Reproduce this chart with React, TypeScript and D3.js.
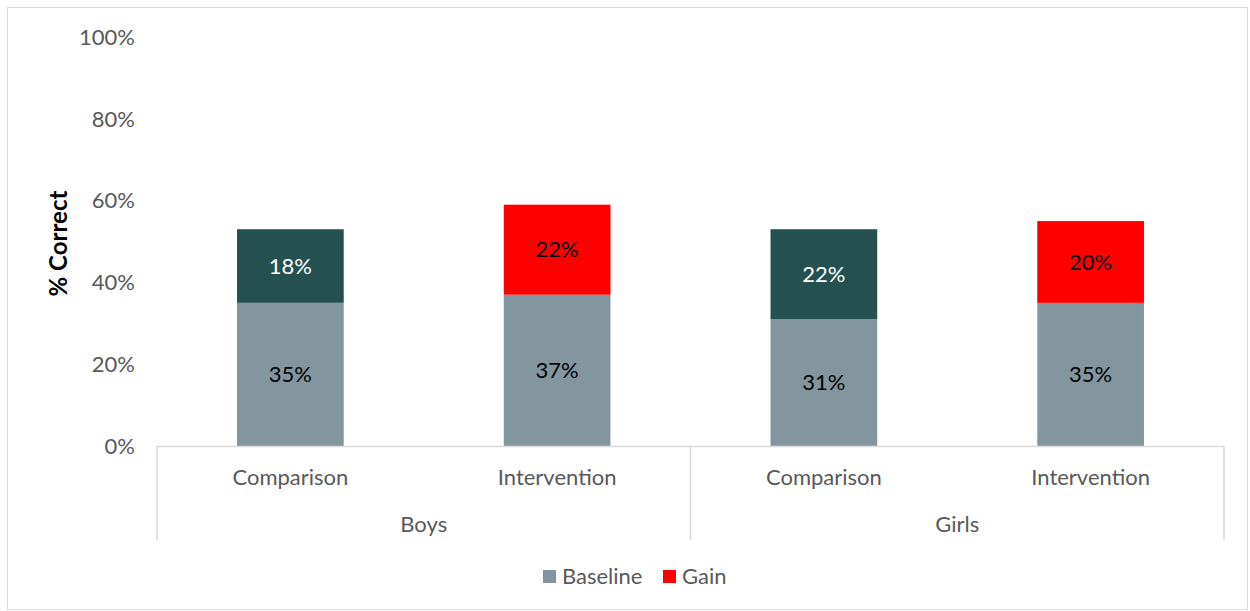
import React from "react";
import * as d3 from "d3";

const groups = ["Boys", "Boys", "Girls", "Girls"];
const conditions = ["Comparison", "Intervention", "Comparison", "Intervention"];
const baseline = [35, 37, 31, 35];
const gain = [18, 22, 22, 20];
const yTicks = [0, 20, 40, 60, 80, 100];
const legendItems = ["Baseline", "Gain"];

const W = 1250;
const H = 611;
const FONT = "Lato, 'Open Sans', sans-serif";
const FS = 22;

export default function App() {
  const left = 157, right = 1224, top = 37, bottom = 446;
  const idx = conditions.map((_, i) => i);
  const x = d3.scaleBand<number>().domain(idx).range([left, right]).paddingInner(0.6).paddingOuter(0.3);
  const y = d3.scaleLinear().domain([0, 100]).range([bottom, top]);
  const band = d3.scaleBand<number>().domain(idx).range([left, right]);
  const baseColor = "#8396A0";
  const gainColor = (i: number) => (conditions[i] === "Intervention" ? "#FF0000" : "#245150");
  const gainText = (i: number) => (conditions[i] === "Intervention" ? "#000" : "#fff");
  const groupNames = Array.from(new Set(groups));
  const grid = "#D9D9D9";

  return (
    <svg width={W} height={H} style={{ position: "absolute", left: 0, top: 0 }} fontFamily={FONT}>
      <rect x={7.5} y={7.5} width={1240} height={602} fill="#fff" stroke={grid} strokeWidth={1} />
      {yTicks.map((t) => (
        <text key={t} x={135} y={y(t)} dy="0.35em" textAnchor="end" fontSize={FS} fill="#595959">
          {t}%
        </text>
      ))}
      <text transform={`translate(67,${(top + bottom) / 2 + 2}) rotate(-90)`} textAnchor="middle" fontSize={24} fontWeight="bold" fill="#000">
        % Correct
      </text>
      {idx.map((i) => (
        <g key={i}>
          <rect x={x(i)} y={y(baseline[i])} width={x.bandwidth()} height={y(0) - y(baseline[i])} fill={baseColor} />
          <rect x={x(i)} y={y(baseline[i] + gain[i])} width={x.bandwidth()} height={y(0) - y(gain[i])} fill={gainColor(i)} />
          <text x={x(i)! + x.bandwidth() / 2} y={y(baseline[i] / 2)} dy="0.35em" textAnchor="middle" fontSize={FS} fill="#000">
            {baseline[i]}%
          </text>
          <text x={x(i)! + x.bandwidth() / 2} y={y(baseline[i] + gain[i] / 2)} dy="0.35em" textAnchor="middle" fontSize={FS} fill={gainText(i)}>
            {gain[i]}%
          </text>
          <text x={band(i)! + band.bandwidth() / 2} y={477} dy="0.35em" textAnchor="middle" fontSize={FS} fill="#595959">
            {conditions[i]}
          </text>
        </g>
      ))}
      <line x1={left} x2={right} y1={bottom + 0.5} y2={bottom + 0.5} stroke={grid} strokeWidth={1.5} />
      {[0, 2, 4].map((k) => (
        <line key={k} x1={band(k) ?? right} x2={band(k) ?? right} y1={bottom} y2={540} stroke={grid} strokeWidth={1.5} />
      ))}
      {groupNames.map((g, gi) => {
        const cx = band(gi * 2)! + band.bandwidth();
        return (
          <text key={g} x={cx} y={524} dy="0.35em" textAnchor="middle" fontSize={FS} fill="#595959">
            {g}
          </text>
        );
      })}
      <g>
        <rect x={543} y={570} width={13} height={13} fill={baseColor} />
        <text x={562} y={576.5} dy="0.35em" fontSize={FS} fill="#595959">{legendItems[0]}</text>
        <rect x={663} y={570} width={13} height={13} fill="#FF0000" />
        <text x={682} y={576.5} dy="0.35em" fontSize={FS} fill="#595959">{legendItems[1]}</text>
      </g>
    </svg>
  );
}
